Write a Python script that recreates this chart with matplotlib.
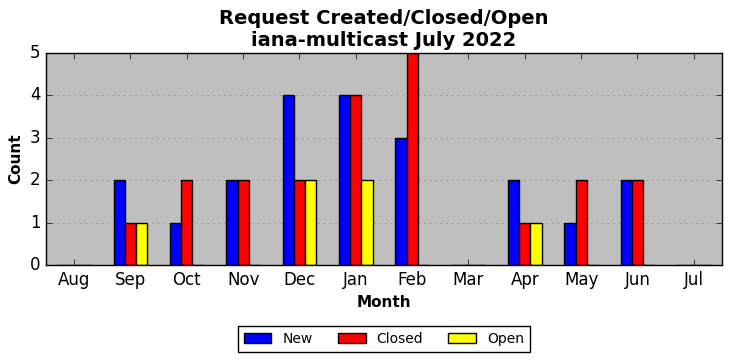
import numpy as np
import matplotlib
matplotlib.use("Agg")
import matplotlib.pyplot as plt

months = ["Aug", "Sep", "Oct", "Nov", "Dec", "Jan", "Feb", "Mar", "Apr", "May", "Jun", "Jul"]
new_counts = [0, 2, 1, 2, 4, 4, 3, 0, 2, 1, 2, 0]
closed_counts = [0, 1, 2, 2, 2, 4, 5, 0, 1, 2, 2, 0]
open_counts = [0, 1, 0, 0, 2, 2, 0, 0, 1, 0, 0, 0]

plt.style.use('classic')
fig = plt.figure(figsize=(7.32, 3.61), dpi=100)
ax = fig.add_axes([0.0628, 0.266, 0.9235, 0.587])
ax.set_facecolor('#bfbfbf')

x = np.arange(len(months))
w = 0.2
ax.bar(x - w, new_counts, w, color='blue', edgecolor='black', label='New', align='center')
ax.bar(x, closed_counts, w, color='red', edgecolor='black', label='Closed', align='center')
ax.bar(x + w, open_counts, w, color='yellow', edgecolor='black', label='Open', align='center')

ax.set_xlim(-0.5, len(months) - 0.5)
ax.set_ylim(0, 5)
ax.set_xticks(x)
ax.set_xticklabels(months)
ax.set_yticks(range(6))
ax.tick_params(labelsize=12)
ax.yaxis.grid(True, linestyle=':', color='#808080')
ax.set_axisbelow(True)

ax.set_xlabel("Month", fontweight='bold', fontsize=11)
ax.set_ylabel("Count", fontweight='bold', fontsize=11)
ax.set_title("Request Created/Closed/Open\niana-multicast July 2022", fontweight='bold', fontsize=14, linespacing=1.2)

ax.legend(loc='upper center', bbox_to_anchor=(0.5, -0.29), ncol=3, fontsize=10,
          frameon=True, fancybox=False, borderaxespad=0, handlelength=2.0, columnspacing=1.8)

fig.savefig("out.png", dpi=100, facecolor='white')
